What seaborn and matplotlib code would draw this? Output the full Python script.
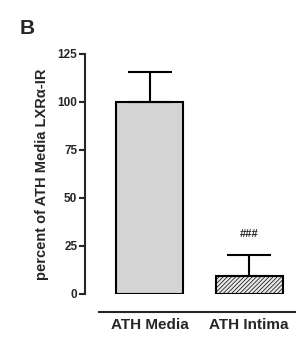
import matplotlib
matplotlib.use("Agg")
import matplotlib.pyplot as plt
import seaborn as sns
import pandas as pd

categories = ["ATH Media", "ATH Intima"]
means = [100.0, 9.5]
errors = [15.5, 10.8]
yticks = [0, 25, 50, 75, 100, 125]
annotation = "###"
panel = "B"
ylabel = "percent of ATH Media LXRα-IR"

sns.set_style("white")
plt.rcParams['font.family'] = ['Liberation Sans', 'DejaVu Sans']
plt.rcParams['font.weight'] = 'bold'
plt.rcParams['hatch.linewidth'] = 0.5
plt.rcParams['hatch.color'] = '#333333'

df = pd.DataFrame({"group": categories, "value": means})

fig = plt.figure(figsize=(3.06, 3.38), dpi=100)
ax = fig.add_axes([85/306, 1-294/338, (298-85)/306, 240/338])

sns.barplot(data=df, x="group", y="value", ax=ax, width=0.67,
            color="#d4d4d4", edgecolor="black", linewidth=1.5, errorbar=None)
patches = ax.patches
patches[0].set_facecolor("#d4d4d4")
patches[1].set_facecolor("#e8e8e8")
patches[1].set_hatch("////////")

ax.errorbar(range(len(categories)), means, yerr=[[0]*len(errors), errors],
            fmt="none", ecolor="black", elinewidth=1.5, capsize=16, capthick=1.5,
            zorder=1)

ax.set_xlim(-0.648, 1.49)
ax.set_ylim(0, 125)
ax.set_yticks(yticks)
ax.set_yticklabels([str(t) for t in yticks])
ax.set_xticks(range(len(categories)))
ax.set_xticklabels(categories)
ax.tick_params(axis="y", length=4, width=1.5, pad=1.5, direction="out", left=True,
               labelsize=8.5)
ax.tick_params(axis="x", length=0, pad=4, labelsize=11)
ax.set_xlabel("")
ax.set_ylabel(ylabel, fontsize=10.5, fontweight="bold", labelpad=6)

for s in ["top", "right"]:
    ax.spines[s].set_visible(False)
ax.spines["left"].set_linewidth(1.5)
ax.spines["bottom"].set_linewidth(1.5)
ax.spines["bottom"].set_position(("outward", 13))
ax.spines["bottom"].set_bounds(-0.507, 1.46)

ax.text(1, means[1] + errors[1] + 11, annotation, ha="center", va="center",
        fontsize=8, fontweight="bold")

fig.text(20/306, 1-29/338, panel, fontsize=15, fontweight="bold", ha="left", va="center")

fig.savefig("out.png", dpi=100)
